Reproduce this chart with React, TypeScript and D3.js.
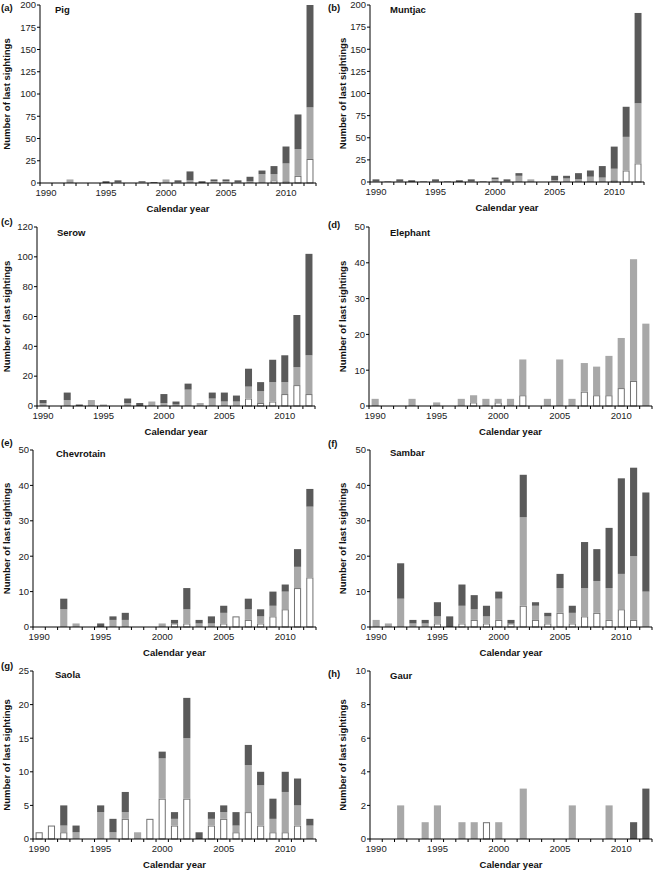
import React from "react";
import * as d3 from "d3";

const years = [1990,1991,1992,1993,1994,1995,1996,1997,1998,1999,2000,2001,2002,2003,2004,2005,2006,2007,2008,2009,2010,2011,2012];
const yearLabels = [1990,1995,2000,2005,2010];

const pigWhite = [0,0,0,0,0,0,0,0,0,0,0,0,0,0,0,0,0,0,0,3,2,8,27];
const pigLight = [0,0,4,0,0,0,1,0,1,0,4,1,3,0,2,2,1,2,10,7,20,30,58];
const pigDark  = [0,0,0,0,0,2,2,0,1,1,0,2,10,2,2,2,2,5,4,9,19,39,115];

const muntjacWhite = [0,0,0,0,0,0,0,0,0,0,0,0,0,0,0,0,0,0,0,0,2,13,21];
const muntjacLight = [1,1,1,0,1,1,1,0,1,1,3,1,7,3,0,2,4,3,6,5,13,38,68];
const muntjacDark  = [2,0,2,2,0,2,0,2,2,0,2,2,3,0,0,5,3,7,7,13,25,34,102];

const serowWhite = [0,0,0,0,0,0,0,0,0,0,0,0,0,0,0,0,0,5,2,3,8,14,8];
const serowLight = [2,0,4,0,4,1,0,2,0,3,2,1,11,2,5,3,3,8,8,13,8,12,26];
const serowDark  = [2,0,5,1,0,0,0,3,2,0,6,2,4,0,4,6,4,12,6,15,18,35,68];

const elephantWhite = [0,0,0,0,0,0,0,0,1,0,1,0,3,0,0,0,0,4,3,3,5,7,0];
const elephantLight = [2,0,0,2,0,1,0,2,2,2,1,2,10,0,2,13,2,8,8,11,14,34,23];
const elephantDark  = [0,0,0,0,0,0,0,0,0,0,0,0,0,0,0,0,0,0,0,0,0,0,0];

const chevrotainWhite = [0,0,0,0,0,0,0,0,0,0,0,1,1,0,0,1,3,2,1,3,5,11,14];
const chevrotainLight = [0,0,5,1,0,0,2,2,0,0,1,0,4,1,1,3,0,3,2,3,5,6,20];
const chevrotainDark  = [0,0,3,0,0,1,1,2,0,0,0,1,6,1,2,2,0,3,2,4,2,5,5];

const sambarWhite = [0,0,0,0,0,1,0,1,2,1,2,1,6,2,1,4,1,3,4,2,5,2,0];
const sambarLight = [2,1,8,1,1,2,0,5,3,2,6,0,25,4,2,7,3,8,9,9,10,18,10];
const sambarDark  = [0,0,10,1,1,4,3,6,4,3,2,1,12,1,1,4,2,13,9,17,27,25,28];

const saolaWhite = [1,2,1,0,0,0,0,3,0,3,6,2,6,0,2,3,1,4,2,1,1,2,0];
const saolaLight = [0,0,1,1,0,4,1,1,1,0,6,1,9,0,1,1,1,7,6,2,6,3,2];
const saolaDark  = [0,0,3,1,0,1,2,3,0,0,1,1,6,1,1,1,2,3,2,3,3,4,1];

const gaurWhite = [0,0,0,0,0,0,0,0,0,1,0,0,0,0,0,0,0,0,0,0,0,0,0];
const gaurLight = [0,0,2,0,1,2,0,1,1,0,1,0,3,0,0,0,2,0,0,2,0,0,0];
const gaurDark  = [0,0,0,0,0,0,0,0,0,0,0,0,0,0,0,0,0,0,0,0,0,1,3];

const pigTicks = [0,25,50,75,100,125,150,175,200];
const serowTicks = [0,20,40,60,80,100,120];
const fiftyTicks = [0,10,20,30,40,50];
const saolaTicks = [0,5,10,15,20,25];
const gaurTicks = [0,2,4,6,8,10];

const FONT = "'Liberation Sans', Arial, Helvetica, sans-serif";
const DARK = "#5a5a5a";
const LIGHT = "#a8a8a8";

type Panel = {
  letter: string; name: string;
  white: number[]; light: number[]; dark: number[];
  ticks: number[];
  x0: number; x1: number; y0: number; y1: number;
  letterY: number; nameX: number; nameY: number; labelX: number;
};

const panels: Panel[] = [
  { letter: "(a)", name: "Pig", white: pigWhite, light: pigLight, dark: pigDark, ticks: pigTicks,
    x0: 40, x1: 316, y0: 5, y1: 183, letterY: 8, nameX: 55, nameY: 10, labelX: 7 },
  { letter: "(b)", name: "Muntjac", white: muntjacWhite, light: muntjacLight, dark: muntjacDark, ticks: pigTicks,
    x0: 370, x1: 644, y0: 5, y1: 182, letterY: 8, nameX: 390, nameY: 10, labelX: 343 },
  { letter: "(c)", name: "Serow", white: serowWhite, light: serowLight, dark: serowDark, ticks: serowTicks,
    x0: 37, x1: 315, y0: 227, y1: 406, letterY: 222, nameX: 57, nameY: 233, labelX: 7 },
  { letter: "(d)", name: "Elephant", white: elephantWhite, light: elephantLight, dark: elephantDark, ticks: fiftyTicks,
    x0: 369, x1: 652, y0: 227, y1: 406, letterY: 225, nameX: 390, nameY: 233, labelX: 343 },
  { letter: "(e)", name: "Chevrotain", white: chevrotainWhite, light: chevrotainLight, dark: chevrotainDark, ticks: fiftyTicks,
    x0: 33, x1: 316, y0: 450, y1: 627, letterY: 443, nameX: 56, nameY: 454, labelX: 7 },
  { letter: "(f)", name: "Sambar", white: sambarWhite, light: sambarLight, dark: sambarDark, ticks: fiftyTicks,
    x0: 370, x1: 652, y0: 450, y1: 627, letterY: 444, nameX: 390, nameY: 453, labelX: 343 },
  { letter: "(g)", name: "Saola", white: saolaWhite, light: saolaLight, dark: saolaDark, ticks: saolaTicks,
    x0: 33, x1: 316, y0: 671, y1: 839, letterY: 666, nameX: 55, nameY: 675, labelX: 7 },
  { letter: "(h)", name: "Gaur", white: gaurWhite, light: gaurLight, dark: gaurDark, ticks: gaurTicks,
    x0: 370, x1: 652, y0: 671, y1: 839, letterY: 674, nameX: 390, nameY: 676, labelX: 343 },
];

function PanelChart({ p }: { p: Panel }) {
  const x = d3.scaleBand<number>().domain(years).range([p.x0, p.x1]).paddingInner(0.42).paddingOuter(0.21);
  const yMax = p.ticks[p.ticks.length - 1];
  const y = d3.scaleLinear().domain([0, yMax]).range([p.y1, p.y0]);
  const rows = years.map((yr, i) => ({ year: yr, white: p.white[i], light: p.light[i], dark: p.dark[i] }));
  const stack = d3.stack<any>().keys(["white", "light", "dark"]);
  const series = stack(rows);
  const fills: Record<string, string> = { white: "#ffffff", light: LIGHT, dark: DARK };
  const strokes: Record<string, string> = { white: "#707070", light: "none", dark: "none" };
  const step = (p.x1 - p.x0) / years.length;
  const boundaries = d3.range(years.length + 1).map((i) => p.x0 + i * step);
  return (
    <g>
      {series.map((s) => (
        <g key={s.key}>
          {s.map((d, i) => {
            const h = y(d[0]) - y(d[1]);
            if (h <= 0) return null;
            const isW = s.key === "white";
            return (
              <rect key={i}
                x={(x(years[i]) as number) + (isW ? 0.5 : 0)}
                y={y(d[1]) + (isW ? 0.5 : 0)}
                width={x.bandwidth() - (isW ? 1 : 0)}
                height={Math.max(0, h - (isW ? 0.5 : 0))}
                fill={fills[s.key]} stroke={strokes[s.key]} strokeWidth={1} />
            );
          })}
        </g>
      ))}
      <line x1={p.x0} x2={p.x0} y1={p.y0} y2={p.y1} stroke="#000" strokeWidth={1} />
      {p.ticks.map((t) => (
        <g key={t}>
          <line x1={p.x0 - 3} x2={p.x0} y1={y(t)} y2={y(t)} stroke="#000" strokeWidth={1} />
          <text x={p.x0 - 4} y={y(t)} dy="0.35em" textAnchor="end" fontSize={9.5} fontFamily={FONT} fill="#222">{t}</text>
        </g>
      ))}
      <line x1={p.x0} x2={p.x1} y1={p.y1} y2={p.y1} stroke="#000" strokeWidth={1} />
      {boundaries.map((bx, i) => (
        <line key={i} x1={bx} x2={bx} y1={p.y1} y2={p.y1 + 3} stroke="#000" strokeWidth={1} />
      ))}
      {yearLabels.map((yr) => (
        <text key={yr} x={(x(yr) as number) + x.bandwidth() / 2} y={p.y1 + 13} textAnchor="middle" fontSize={9.5} fontFamily={FONT} fill="#222">{yr}</text>
      ))}
      <text x={(p.x0 + p.x1) / 2} y={p.y1 + 29} textAnchor="middle" fontSize={9.5} fontWeight="bold" fontFamily={FONT} fill="#111">Calendar year</text>
      <text transform={`translate(${p.labelX},${(p.y0 + p.y1) / 2}) rotate(-90)`} dy="0.35em" textAnchor="middle" fontSize={9.5} fontWeight="bold" fontFamily={FONT} fill="#111">Number of last sightings</text>
      <text x={p.x0 < 200 ? 1 : 328} y={p.letterY} dy="0.35em" fontSize={9.5} fontWeight="bold" fontFamily={FONT} fill="#111">{p.letter}</text>
      <text x={p.nameX} y={p.nameY} dy="0.35em" fontSize={9.5} fontWeight="bold" fontFamily={FONT} fill="#111">{p.name}</text>
    </g>
  );
}

export default function App() {
  return (
    <svg width={654} height={870} style={{ position: "absolute", left: 0, top: 0, background: "#fff" }}>
      <rect x={0} y={0} width={654} height={870} fill="#fff" />
      {panels.map((p) => <PanelChart key={p.letter} p={p} />)}
    </svg>
  );
}
